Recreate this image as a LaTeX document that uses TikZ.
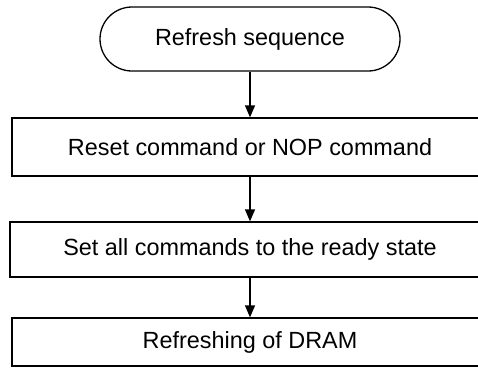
\documentclass[tikz,border=0pt]{standalone}
\usepackage{fontspec}
\setmainfont{Liberation Sans}
\usetikzlibrary{arrows.meta,shapes.misc}
\begin{document}
\begin{tikzpicture}[x=1pt,y=-1pt,
  lbl/.style={font=\fontsize{23.4}{28}\selectfont},
  box/.style={lbl,draw,line width=1.3pt,rectangle,minimum width=476pt,inner sep=0pt},
  term/.style={lbl,draw,line width=1.3pt,rounded rectangle,minimum width=300pt,minimum height=64pt,inner sep=0pt},
  arr/.style={line width=1.3pt,-{Triangle[length=12pt,width=10pt]}}]
\useasboundingbox (0,0) rectangle (478,367);
\clip (0,0) rectangle (478,367);
\node[term] (t) at (250,39) {Refresh sequence};
\node[box,minimum height=58pt] (b1) at (250,147) {Reset command or NOP command};
\node[box,minimum height=55pt,minimum width=480pt] (b2) at (250,249.5) {Set all commands to the ready state};
\node[box,minimum height=48pt] (b3) at (250,342) {Refreshing of DRAM};
\draw[arr] (t.south) -- (b1.north);
\draw[arr] (b1.south) -- (b2.north);
\draw[arr] (b2.south) -- (b3.north);
\end{tikzpicture}
\end{document}
